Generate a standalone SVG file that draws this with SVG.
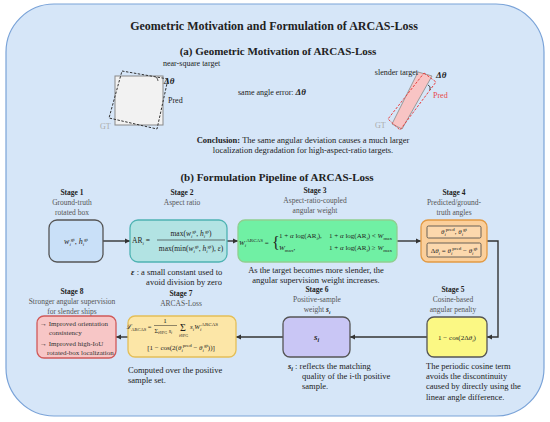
<svg xmlns="http://www.w3.org/2000/svg" width="550" height="422" viewBox="0 0 550 422" font-family="'Liberation Serif','Times New Roman',serif">
<defs>
<marker id="ah" markerWidth="6" markerHeight="6" refX="5" refY="3" orient="auto" markerUnits="userSpaceOnUse">
<path d="M0,0.5 L5,3 L0,5.5 Z" fill="#333"/>
</marker>
<style>
text{font-family:"Liberation Serif","Times New Roman",serif;fill:#222}
.t{font-size:12px;font-weight:bold;text-anchor:middle}
.h{font-size:11px;font-weight:bold;text-anchor:middle}
.sl{font-size:7.5px;font-weight:bold;text-anchor:middle}
.sd{font-size:7.5px;fill:#555;text-anchor:middle}
.d{font-size:8.5px}
.m{font-size:7px}
.i{font-style:italic}
.b{font-weight:bold}
.s{font-size:5px}
.box{stroke-width:1.3}
.con{stroke:#333;stroke-width:1.4;fill:none}
.sm{font-size:8px}
</style>
</defs>
<rect x="6" y="4" width="538" height="412" rx="48" fill="#d6e6f8" stroke="#7aa3d8" stroke-width="1.2"/>
<text class="t" x="274" y="30">Geometric Motivation and Formulation of ARCAS-Loss</text>
<text class="h" x="278" y="55">(a) Geometric Motivation of ARCAS-Loss</text>

<g id="near-square">
<rect x="115" y="76" width="48" height="49" fill="#f2f2f2" stroke="#888" stroke-width="1"/>
<polygon points="122,71 168,79 157,129 109,118" fill="none" stroke="#333" stroke-width="1" stroke-dasharray="2.5,1.5"/>
<path d="M156,77 Q158,79 158,81" fill="none" stroke="#333" stroke-width="0.8"/>
<text class="sm" x="163" y="66" fill="#333">near-square target</text>
<text x="164" y="84" font-size="9" font-weight="bold" font-style="italic">Δθ</text>
<text class="sm" x="168" y="103">Pred</text>
<text class="sm" x="100" y="129" style="fill:#aaa">GT</text>
</g>
<g id="same-angle">
<text class="sm" x="238" y="95">same angle error:  <tspan font-weight="bold" font-style="italic" font-size="9">Δθ</tspan></text>
</g>
<g id="slender">
<polygon points="418,72 432,76 402,129 392,124" fill="#f8c4c4" stroke="#999" stroke-width="1"/>
<polygon points="424,73 436,82 400,130 388,119" fill="none" stroke="#e84040" stroke-width="1" stroke-dasharray="2.5,1.5"/>
<path d="M428,85 Q431,86 430,90" fill="none" stroke="#333" stroke-width="0.9"/>
<text class="sm" x="418" y="75" text-anchor="end" fill="#333">slender target</text>
<text x="436" y="78" font-size="9" font-weight="bold" font-style="italic">Δθ</text>
<text class="sm" x="433" y="98" style="fill:#e84848">Pred</text>
<text class="sm" x="375" y="128" style="fill:#aaa">GT</text>
</g>
<g id="conclusion">
<text class="d" x="303" y="143" text-anchor="middle"><tspan font-weight="bold">Conclusion:</tspan> The same angular deviation causes  a much larger</text>
<text class="d" x="303" y="153" text-anchor="middle">localization degradation for high-aspect-ratio targets.</text>
</g>

<text class="h" x="277" y="181">(b) Formulation Pipeline of ARCAS-Loss</text>

<g id="connectors">
<line class="con" x1="103" y1="241" x2="130" y2="241" marker-end="url(#ah)"/>
<line class="con" x1="227" y1="241" x2="238" y2="241" marker-end="url(#ah)"/>
<line class="con" x1="397" y1="241" x2="421" y2="241" marker-end="url(#ah)"/>
<polyline class="con" points="487,241 498,241 498,337 487,337" marker-end="url(#ah)"/>
<line class="con" x1="427" y1="337" x2="350" y2="337" marker-end="url(#ah)"/>
<line class="con" x1="283" y1="337" x2="236" y2="337" marker-end="url(#ah)"/>
<line class="con" x1="128" y1="337" x2="116" y2="337" marker-end="url(#ah)"/>
</g>

<g id="stage1">
<text class="sl" x="72" y="195">Stage 1</text>
<text class="sd" x="72" y="205">Ground-truth</text>
<text class="sd" x="72" y="215">rotated box</text>
<rect class="box" x="49" y="220" width="54" height="42" rx="8" fill="#c9e0f8" stroke="#555"/>
<text x="76" y="244" font-size="8" text-anchor="middle"><tspan class="i">w</tspan><tspan class="s i" dy="2">i</tspan><tspan class="s" dy="-5">gt</tspan><tspan dy="3">, </tspan><tspan class="i">h</tspan><tspan class="s i" dy="2">i</tspan><tspan class="s" dy="-5">gt</tspan></text>
</g>

<g id="stage2">
<text class="sl" x="182" y="195">Stage 2</text>
<text class="sd" x="182" y="205">Aspect ratio</text>
<rect class="box" x="130" y="220" width="97" height="42" rx="8" fill="#b2e3e3" stroke="#4fb3b3"/>
<text x="132" y="243" font-size="7.5">AR<tspan class="s i" dy="2">i</tspan><tspan dy="-2"> =</tspan></text>
<line x1="157" y1="240" x2="225" y2="240" stroke="#222" stroke-width="0.6"/>
<text x="191" y="236" font-size="7.5" text-anchor="middle">max(<tspan class="i">w</tspan><tspan class="s i" dy="2">i</tspan><tspan class="s" dy="-5">gt</tspan><tspan dy="3">, </tspan><tspan class="i">h</tspan><tspan class="s i" dy="2">i</tspan><tspan class="s" dy="-5">gt</tspan><tspan dy="3">)</tspan></text>
<text x="191" y="251" font-size="7.5" text-anchor="middle">max(min(<tspan class="i">w</tspan><tspan class="s i" dy="2">i</tspan><tspan class="s" dy="-5">gt</tspan><tspan dy="3">, </tspan><tspan class="i">h</tspan><tspan class="s i" dy="2">i</tspan><tspan class="s" dy="-5">gt</tspan><tspan dy="3">), </tspan><tspan class="i">ε</tspan>)</text>
<text class="d" x="131" y="275"><tspan class="i b">ε</tspan> :  a small constant used to</text>
<text class="d" x="184" y="285" text-anchor="middle">avoid division by zero</text>
</g>

<g id="stage3">
<text class="sl" x="315" y="193">Stage 3</text>
<text class="sd" x="315" y="203">Aspect-ratio-coupled</text>
<text class="sd" x="315" y="213">angular weight</text>
<rect class="box" x="238" y="220" width="159" height="42" rx="7" fill="#70f0a4" stroke="#8fcf8f"/>
<text class="m" x="239" y="245"><tspan class="i">W</tspan><tspan class="s i" dy="2">i</tspan><tspan class="s" dy="-5">ARCAS</tspan><tspan dy="3"> =</tspan></text>
<text x="272" y="248" font-size="16">{</text>
<text class="m" x="279" y="238">1 + <tspan class="i">α</tspan> log(AR<tspan class="s i" dy="2">i</tspan><tspan dy="-2">),</tspan></text>
<text class="m" x="279" y="250"><tspan class="i">W</tspan><tspan class="s" dy="2">max</tspan><tspan dy="-2">,</tspan></text>
<text class="m" x="329" y="238">1 + <tspan class="i">α</tspan> log(AR<tspan class="s i" dy="2">i</tspan><tspan dy="-2">) &lt; </tspan><tspan class="i">W</tspan><tspan class="s" dy="2">max</tspan></text>
<text class="m" x="329" y="250">1 + <tspan class="i">α</tspan> log(AR<tspan class="s i" dy="2">i</tspan><tspan dy="-2">) ≥ </tspan><tspan class="i">W</tspan><tspan class="s" dy="2">max</tspan></text>
<text class="d" x="316" y="273" text-anchor="middle">As the target becomes more slender, the</text>
<text class="d" x="316" y="283" text-anchor="middle">angular supervision weight increases.</text>
</g>

<g id="stage4">
<text class="sl" x="454" y="195">Stage 4</text>
<text class="sd" x="454" y="205">Predicted/ground-</text>
<text class="sd" x="454" y="215">truth  angles</text>
<rect class="box" x="421" y="220" width="66" height="42" rx="7" fill="#fbcf9b" stroke="#e29a44"/>
<rect x="427" y="226" width="54" height="12" rx="1.5" fill="#fcd8ad" stroke="#444" stroke-width="0.8"/>
<rect x="427" y="243" width="54" height="14" rx="1.5" fill="#fcd8ad" stroke="#444" stroke-width="0.8"/>
<text class="m" x="454" y="234" text-anchor="middle"><tspan class="i">θ</tspan><tspan class="s i" dy="2">i</tspan><tspan class="s" dy="-5">pred</tspan><tspan dy="3">, </tspan><tspan class="i">θ</tspan><tspan class="s i" dy="2">i</tspan><tspan class="s" dy="-5">gt</tspan></text>
<text class="m" x="454" y="253" text-anchor="middle">Δ<tspan class="i">θ</tspan><tspan class="s i" dy="2">i</tspan><tspan dy="-2"> = </tspan><tspan class="i">θ</tspan><tspan class="s i" dy="2">i</tspan><tspan class="s" dy="-5">pred</tspan><tspan dy="3"> − </tspan><tspan class="i">θ</tspan><tspan class="s i" dy="2">i</tspan><tspan class="s" dy="-5">gt</tspan></text>
</g>

<g id="stage5">
<text class="sl" x="453" y="292">Stage 5</text>
<text class="sd" x="453" y="302">Cosine-based</text>
<text class="sd" x="453" y="312">angular penalty</text>
<rect class="box" x="427" y="317" width="60" height="40" rx="7" fill="#fbf884" stroke="#555"/>
<text class="m" x="457" y="340" text-anchor="middle">1 − cos(2Δ<tspan class="i">θ</tspan><tspan class="s i" dy="2">i</tspan><tspan dy="-2">)</tspan></text>
<text class="d" x="426" y="369">The periodic cosine term</text>
<text class="d" x="426" y="379">avoids the discontinuity</text>
<text class="d" x="426" y="389">caused by directly using the</text>
<text class="d" x="426" y="400">linear angle difference.</text>
</g>

<g id="stage6">
<text class="sl" x="317" y="292">Stage 6</text>
<text class="sd" x="317" y="302">Positive-sample</text>
<text class="sd" x="317" y="312">weight  <tspan class="i b" style="fill:#222">s</tspan><tspan font-size="5" dy="2" class="i b" style="fill:#222">i</tspan></text>
<rect class="box" x="283" y="317" width="67" height="40" rx="7" fill="#c9c6f5" stroke="#555"/>
<text x="314" y="340" font-size="9" class="i b">s<tspan font-size="6" dy="2">i</tspan></text>
<text class="d" x="288" y="369"><tspan class="i b">s</tspan><tspan font-size="6" dy="2" class="i b">i</tspan><tspan dy="-2"> :  reflects the matching</tspan></text>
<text class="d" x="302" y="379">quality of the i-th positive</text>
<text class="d" x="302" y="389">sample.</text>
</g>

<g id="stage7">
<text class="sl" x="181" y="296">Stage 7</text>
<text class="sd" x="181" y="306">ARCAS-Loss</text>
<rect class="box" x="128" y="316" width="108" height="41" rx="7" fill="#fce6a7" stroke="#e4bf58"/>
<text x="151.5" y="329" font-size="6.5" text-anchor="end"><tspan class="i">ℒ</tspan><tspan font-size="4.5" dy="2">ARCAS</tspan><tspan dy="-2"> =</tspan></text>
<text class="m" x="165" y="323" text-anchor="middle">1</text>
<line x1="154" y1="325.5" x2="177" y2="325.5" stroke="#222" stroke-width="0.5"/>
<text x="154.5" y="333" font-size="6">Σ<tspan font-size="4" dy="1">i∈FG</tspan><tspan dy="-1" class="i"> s</tspan><tspan font-size="4" dy="1" class="i">i</tspan></text>
<text x="180" y="331" font-size="10">Σ</text>
<text x="179" y="337" font-size="4">i∈FG</text>
<text class="m" x="190" y="329"><tspan class="i">s</tspan><tspan class="s i" dy="2">i</tspan><tspan dy="-2" class="i">W</tspan><tspan class="s i" dy="2">i</tspan><tspan class="s" dy="-5">ARCAS</tspan></text>
<text class="m" x="181" y="350" text-anchor="middle">[1 − cos(2(<tspan class="i">θ</tspan><tspan class="s i" dy="2">i</tspan><tspan class="s" dy="-5">pred</tspan><tspan dy="3"> − </tspan><tspan class="i">θ</tspan><tspan class="s i" dy="2">i</tspan><tspan class="s" dy="-5">gt</tspan><tspan dy="3">))]</tspan></text>
<text class="d" x="128" y="373">Computed over the positive</text>
<text class="d" x="128" y="383">sample set.</text>
</g>

<g id="stage8">
<text class="sl" x="72" y="294">Stage 8</text>
<text class="sd" x="72" y="304">Stronger angular supervision</text>
<text class="sd" x="72" y="314">for slender ships</text>
<rect class="box" x="37" y="316" width="79" height="42" rx="7" fill="#f7c6c6" stroke="#d05a5a"/>
<text class="m" x="40" y="326" style="fill:#333">→ Improved orientation</text>
<text class="m" x="49" y="335" style="fill:#333">consistency</text>
<text class="m" x="40" y="346" style="fill:#333">→ Improved high-IoU</text>
<text class="m" x="47" y="355" style="fill:#333">rotated-box localization</text>
</g>
</svg>
